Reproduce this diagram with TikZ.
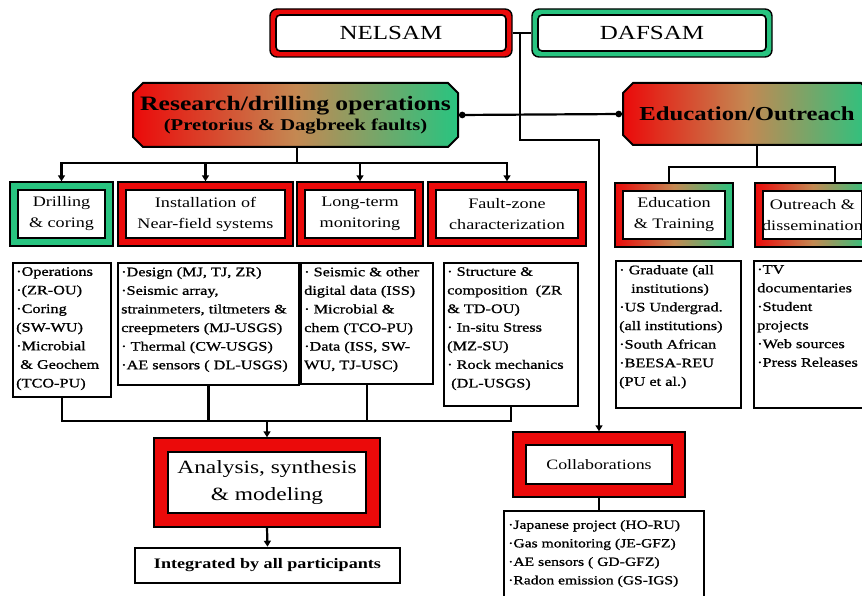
\documentclass[tikz,border=0pt]{standalone}
\usepackage{fontspec}
\setmainfont{Liberation Serif}[FakeStretch=1.25]
\newfontfamily\detfont{Liberation Serif}[FakeStretch=1.25,FakeBold=1]
\usetikzlibrary{arrows.meta,shapes.misc}
\definecolor{bred}{RGB}{235,10,10}
\definecolor{bgreen}{RGB}{40,196,128}
\definecolor{bmid}{RGB}{196,136,82}
\tikzset{
  conn/.style={line width=2.2pt, draw=black},
  arr/.style={conn, -{Triangle[length=6pt,width=7pt]}},
  dotends/.style={conn, {Circle[length=6.5pt]}-{Circle[length=6.5pt]}},
  bandbox/.style 2 args={draw=black, line width=1.4pt, fill=#1, inner sep=0pt, align=center,
    path picture={\draw[line width=2pt, fill=white]
      ([shift={(#2,-#2)}]path picture bounding box.north west) rectangle
      ([shift={(-#2,#2)}]path picture bounding box.south east);}},
  gbandbox/.style={bandbox={white}{#1}, left color=bred, right color=bgreen, middle color=bmid},
  rbox/.style 2 args={draw=black, line width=1.4pt, fill=#1, rounded corners=7pt, inner sep=0pt,
    path picture={\draw[line width=1.6pt, fill=white, rounded corners=4pt]
      ([shift={(#2,-#2)}]path picture bounding box.north west) rectangle
      ([shift={(-#2,#2)}]path picture bounding box.south east);}},
  chbox/.style={chamfered rectangle, chamfered rectangle xsep=5pt, chamfered rectangle ysep=5pt,
    draw=black, line width=2pt, left color=bred, right color=bgreen, middle color=bmid,
    inner sep=0pt, align=center},
  midfont/.style={font=\fontsize{14.5}{21}\selectfont},
  detbox/.style={draw=black, line width=2pt, fill=white, inner sep=0pt, anchor=north west},
  dtext/.style={anchor=north west, align=left, inner sep=0pt, font=\detfont\fontsize{13}{18.6}\selectfont},
}
\begin{document}
\begin{tikzpicture}[x=1pt, y=-1pt]
\useasboundingbox (0,0) rectangle (862,596);
\fill[white] (0,0) rectangle (862,596);
\clip (0,0) rectangle (862,596);

% top boxes
\node[rbox={bred}{6pt}, minimum width=242pt, minimum height=48pt, font=\fontsize{20}{24}\selectfont] (nelsam) at (391,33) {NELSAM};
\node[rbox={bgreen}{6pt}, minimum width=240pt, minimum height=48pt, font=\fontsize{20}{24}\selectfont] (dafsam) at (652,33) {DAFSAM};

\node[chbox, minimum width=325pt, minimum height=64pt] (research) at (295.5,115)
  {{\fontsize{20.5}{25}\selectfont\bfseries Research/drilling operations}\\[3pt]
   {\fontsize{16.5}{20}\selectfont\bfseries (Pretorius \& Dagbreek faults)}};
\node[chbox, minimum width=248pt, minimum height=62pt] (edu) at (747,114)
  {\fontsize{19.8}{25}\selectfont\bfseries Education/Outreach};

% second level
\node[bandbox={bgreen}{8pt}, midfont, minimum width=103pt, minimum height=64pt] (drill) at (61.5,214) {Drilling\\\& coring};
\node[bandbox={bred}{8pt}, midfont, minimum width=175pt, minimum height=64pt] (install) at (205.5,214) {Installation of\\Near-field systems};
\node[bandbox={bred}{8pt}, midfont, minimum width=126pt, minimum height=64pt] (longterm) at (360,214) {Long-term\\monitoring};
\node[bandbox={bred}{8pt}, midfont, minimum width=158pt, minimum height=64pt] (fault) at (507,214) {Fault-zone\\characterization};
\node[gbandbox=8pt, midfont, minimum width=118pt, minimum height=64pt] (edtrain) at (674,215) {Education\\\& Training};
\node[gbandbox=8pt, midfont, minimum width=115pt, minimum height=64pt] (outreach) at (812.5,215) {Outreach \&\\dissemination};

% detail boxes
\node[detbox, minimum width=98pt, minimum height=134pt] (boxA) at (12,262) {};
\node[dtext] (tA) at (16,267) {·Operations\\·(ZR-OU)\\·Coring\\(SW-WU)\\·Microbial\\\ \& Geochem\\(TCO-PU)};
\node[detbox, minimum width=181pt, minimum height=122pt] (boxB) at (117,262) {};
\node[dtext] (tB) at (121,267) {·Design (MJ, TJ, ZR)\\·Seismic array,\\strainmeters, tiltmeters \&\\creepmeters (MJ-USGS)\\· Thermal (CW-USGS)\\·AE sensors ( DL-USGS)};
\node[detbox, minimum width=132pt, minimum height=121pt] (boxC) at (300,262) {};
\node[dtext] (tC) at (304,267) {· Seismic \& other\\digital data (ISS)\\· Microbial \&\\chem (TCO-PU)\\·Data (ISS, SW-\\WU, TJ-USC)};
\node[detbox, minimum width=134pt, minimum height=143pt] (boxD) at (443,262) {};
\node[dtext] (tD) at (447,267) {· Structure \&\\composition\ \ (ZR\\\& TD-OU)\\· In-situ Stress\\(MZ-SU)\\· Rock mechanics\\\ (DL-USGS)};
\node[detbox, minimum width=125pt, minimum height=147pt] (boxE) at (615,260) {};
\node[dtext] (tE) at (619,265) {· Graduate (all\\\hspace*{12pt}institutions)\\·US Undergrad.\\(all institutions)\\·South African\\·BEESA-REU\\(PU et al.)};
\node[detbox, minimum width=140pt, minimum height=147pt] (boxF) at (753,260) {};
\node[dtext] (tF) at (757,265) {·TV\\documentaries\\·Student\\projects\\·Web sources\\·Press Releases};

% bottom boxes
\node[bandbox={bred}{14pt}, minimum width=226pt, minimum height=89pt, font=\fontsize{18.7}{27}\selectfont] (analysis) at (267,482.5) {Analysis, synthesis\\\& modeling};
\node[draw=black, line width=2.6pt, fill=white, inner sep=0pt, minimum width=265pt, minimum height=35pt, font=\bfseries\fontsize{14.5}{17}\selectfont] (integ) at (267.5,565.5) {Integrated by all participants};
\node[bandbox={bred}{13pt}, minimum width=172pt, minimum height=65pt, font=\fontsize{14.3}{17}\selectfont] (collab) at (599,464.5) {Collaborations};
\node[detbox, minimum width=200pt, minimum height=95pt] (collist) at (503,510) {};
\node[anchor=north west, align=left, inner sep=0pt, font=\detfont\fontsize{12.5}{18.5}\selectfont] (tCL) at (508,520)
  {·Japanese project (HO-RU)\\·Gas monitoring (JE-GFZ)\\·AE sensors ( GD-GFZ)\\·Radon emission (GS-IGS)};

% connectors
\coordinate (J) at (520,33);
\coordinate (K) at (520,140);
\draw[conn] (nelsam.east) -- (dafsam.west);
\draw[arr] (J) -- (K) -| (collab.north);
\draw[dotends] (research.east) -- (edu.west);

\coordinate (rb) at (297,163);
\draw[conn] (research.south -| rb) -- (rb);
\draw[arr] (rb) -| (drill.north);
\draw[arr] (rb) -| (install.north);
\draw[arr] (rb) -| (longterm.north);
\draw[arr] (rb) -| (fault.north);

\coordinate (eb) at (757,167);
\draw[conn] (edu.south -| eb) -- (eb);
\draw[conn] (eb) -| ([xshift=-5pt]edtrain.north);
\draw[conn] (eb) -| ([xshift=22.5pt]outreach.north);

\coordinate (bb) at (267,421);
\draw[conn] (boxA.south) |- (bb);
\draw[conn] (boxD.south) |- (bb);
\draw[conn] (boxB.south) -- (boxB.south |- bb);
\draw[conn] (boxC.south) -- (boxC.south |- bb);
\draw[arr] (bb) -- (analysis.north);
\draw[arr] (analysis.south) -- (integ.north);
\draw[conn] (collab.south) -- (collab.south |- collist.north);
\end{tikzpicture}
\end{document}
